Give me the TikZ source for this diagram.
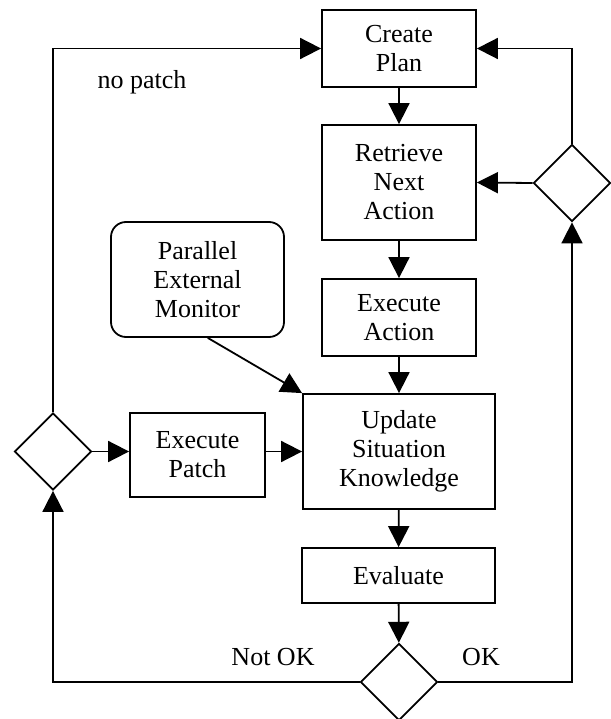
\documentclass[tikz,border=0pt]{standalone}
\usepackage{fontspec}
\setmainfont{Liberation Serif}
\usetikzlibrary{shapes.geometric,arrows.meta}

\begin{document}
\begin{tikzpicture}[x=1pt, y=-1pt,
        font=\fontsize{26pt}{29pt}\selectfont,
        box/.style={draw, line width=1.8pt, rectangle, align=center, inner sep=0pt},
        monbox/.style={box, rounded corners=15pt},
        decision/.style={draw, line width=1.8pt, diamond, inner sep=0pt, minimum width=77pt, minimum height=77pt},
        flow/.style={line width=1.8pt, -{Triangle[length=21pt,width=21pt]}}]
        \useasboundingbox (0,0) rectangle (610,719);

        % Блоки
        \node[box, minimum width=154pt, minimum height=77pt]  (plan)     at (399,48.5)   {Create\\Plan};
        \node[box, minimum width=154pt, minimum height=115pt] (retrieve) at (399,182.5)  {Retrieve\\Next\\Action};
        \node[box, minimum width=154pt, minimum height=77pt]  (exec)     at (399,317.5)  {Execute\\Action};
        \node[box, minimum width=192pt, minimum height=115pt] (update)   at (399,451.5)  {Update\\Situation\\Knowledge};
        \node[box, minimum width=193pt, minimum height=55pt]  (evaluate) at (398.5,575.5) {Evaluate};
        \node[box, minimum width=135pt, minimum height=84pt]  (patch)    at (197.5,455)  {Execute\\Patch};
        \node[monbox, minimum width=173pt, minimum height=115pt] (monitor) at (197.5,279.5) {Parallel\\External\\Monitor};

        % Ромбы
        \node[decision] (dright)  at (572,183) {};
        \node[decision] (dleft)   at (53,451.5) {};
        \node[decision] (dbottom) at (399,682) {};

        % Стрелки
        \draw[flow] (plan) -- (retrieve);
        \draw[flow] (retrieve) -- (exec);
        \draw[flow] (exec) -- (update);
        \draw[flow] (update) -- (evaluate);
        \draw[flow] (evaluate) -- (dbottom);
        \draw[flow] (dbottom.east) -| (dright.south);
        \draw[flow] (dright.north) |- (plan.east);
        \draw[flow] (dright.west) -- (retrieve.east);
        \draw[flow] (dbottom.west) -| (dleft.south);
        \draw[flow] (dleft.north) |- (plan.west);
        \draw[flow] (dleft.east) -- (dleft.east -| patch.west);
        \draw[flow] (patch.east |- update.west) -- (update.west);
        \draw[flow] (monitor.-80) -- (update.north west);

        % Подписи
        \node (nopatch) at (142,82)  {no patch};
        \node (notok)   at (273,657) {Not OK};
        \node (ok)      at (481,657) {OK};
    \end{tikzpicture}
\end{document}
